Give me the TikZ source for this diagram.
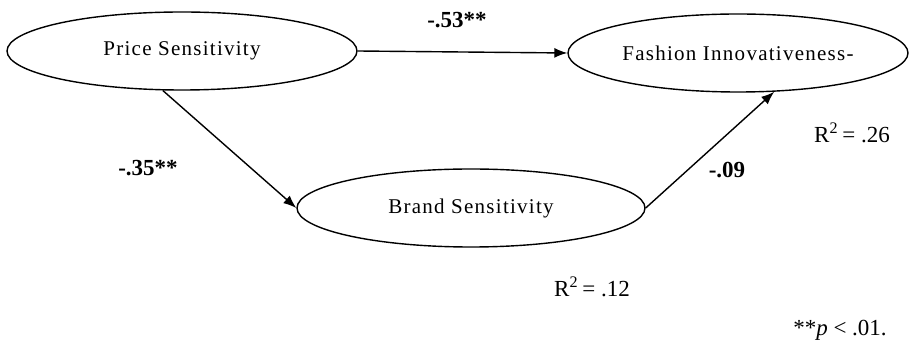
\documentclass[tikz,border=0pt]{standalone}
\usepackage{fontspec}
\setmainfont{Liberation Serif}
\newfontfamily\latentfont[LetterSpace=6]{Liberation Serif}
\usetikzlibrary{shapes.geometric,arrows.meta}
\begin{document}
\begin{tikzpicture}[
  x=0.5pt,y=-0.5pt,
  latent/.style={ellipse,draw,line width=0.7pt,inner sep=0pt,minimum width=175pt,minimum height=39pt,font=\latentfont\fontsize{10.5}{12}\selectfont},
  arrow/.style={-{Latex[length=6.5pt,width=5pt]},line width=0.7pt},
  coef/.style={font=\bfseries\fontsize{11.5}{13}\selectfont},
  note/.style={font=\fontsize{11.5}{13}\selectfont}
]
\useasboundingbox (0,0) rectangle (910,341);
\node[latent] (price) at (182,51) {Price Sensitivity};
\node[latent,minimum width=170pt] (fashion) at (738,53) {Fashion Innovativeness-};
\node[latent,minimum width=174pt] (brand) at (471,208) {Brand Sensitivity};

\draw[arrow] (price.east) -- (fashion.west);
\draw[arrow] (price.-116) -- (brand.west);
\draw[arrow] (brand.east) -- (fashion.-47);

\node[coef] (b53) at (457,20) {-.53**};
\node[coef] (b35) at (148,168) {-.35**};
\node[coef] (b09) at (727,170) {-.09};
\node[note] (r26) at (852,133) {R\textsuperscript{2}\,= .26};
\node[note] (r12) at (592,287) {R\textsuperscript{2}\,= .12};
\node[note] (sig) at (840,330) {**\textit{p} < .01.};
\end{tikzpicture}
\end{document}
